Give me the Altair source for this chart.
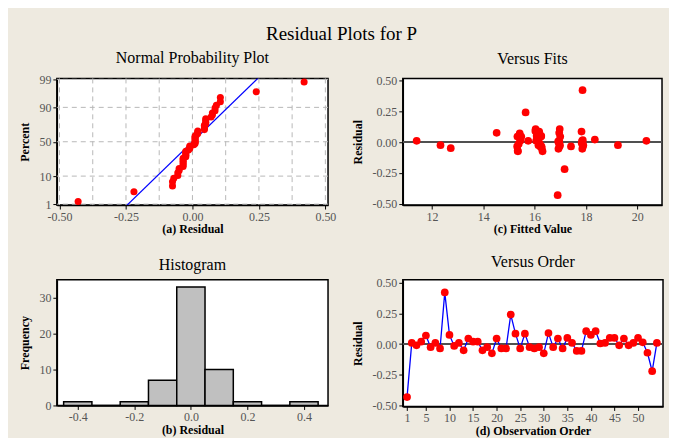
import altair as alt
import pandas as pd
from statistics import NormalDist

FONT = "Liberation Serif"

# Residuals by observation order (read from "Versus Order")
residuals = [-0.43, 0.01, -0.01, 0.02, 0.07, -0.025, 0.01, -0.035, 0.42, 0.075,
             -0.015, 0.01, -0.05, 0.045, 0.02, 0.02, -0.05, -0.025, -0.075, 0.045,
             -0.035, -0.035, 0.24, 0.085, -0.035, 0.085, -0.025, -0.035, -0.025, -0.075,
             0.09, -0.025, 0.045, -0.035, 0.05, 0.01, -0.055, -0.055, 0.105, 0.075,
             0.105, 0.005, 0.01, 0.05, 0.05, -0.01, 0.045, -0.01, 0.01, 0.05,
             0.015, -0.07, -0.22, 0.01]
# Fitted values (read from "Versus Fits")
fits = [16.90, 11.40, 16.95, 16.10, 15.42, 12.33, 20.36, 17.42, 17.87, 14.52,
        15.38, 17.85, 12.73, 15.33, 15.45, 18.35, 16.28, 19.25, 15.35, 16.25,
        16.22, 16.97, 15.65, 16.18, 15.32, 17.83, 16.15, 17.88, 16.99, 16.31,
        16.03, 17.90, 15.48, 16.27, 16.08, 15.75, 16.93, 17.86, 16.98, 16.96,
        16.04, 16.92, 15.44, 16.12, 15.40, 16.20, 17.00, 17.84, 16.06, 16.26,
        17.88, 15.34, 17.17, 16.96]
order = list(range(1, len(residuals) + 1))

# Histogram (read from "Histogram")
hist_lo = [-0.45, -0.35, -0.25, -0.15, -0.05, 0.05, 0.15, 0.25, 0.35]
hist_count = [1, 0, 1, 7, 33, 10, 1, 0, 1]

# Normal probability plot: fitted normal line and grid
line_res = [-0.268, 0.268]
line_pct = [0.5, 99.5]
prob_ticks = [1, 10, 50, 90, 99]
npp_grid_x = [-0.5, -0.375, -0.25, -0.125, 0.0, 0.125, 0.25, 0.375, 0.5]
npp_label_x = [-0.5, -0.25, 0.0, 0.25, 0.5]
resid_ticks = [-0.5, -0.25, 0.0, 0.25, 0.5]
fit_ticks = [12, 14, 16, 18, 20]
order_ticks = [1, 5, 10, 15, 20, 25, 30, 35, 40, 45, 50]
hist_ticks = [-0.4, -0.2, 0.0, 0.2, 0.4]
freq_ticks = [0, 10, 20, 30]

n = len(residuals)
df = pd.DataFrame({"resid": residuals, "fit": fits, "order": order})

RED = "#FF0000"
BLUE = "#0000FF"
PT = 50


def hyph(fmt):
    return f"(datum.value < 0 ? '-' : '') + format(abs(datum.value), '{fmt}')"


def ptitle(t):
    return alt.TitleParams(t, font=FONT, fontSize=16, fontWeight="normal",
                           color="black", offset=7, anchor="middle")


# ---------- (a) Normal probability plot ----------
xs_a = alt.Scale(domain=[-0.51, 0.51], nice=False, zero=False)
ys_a = alt.Scale(domain=[-2.36, 2.36], nice=False, zero=False)
z_ticks = [NormalDist().inv_cdf(p / 100) for p in prob_ticks]
ax_xa = alt.Axis(values=npp_label_x, labelExpr=hyph(".2f"), title="(a) Residual")
ax_ya = alt.Axis(values=z_ticks, title="Percent",
                 labelExpr="format(cumulativeNormal(datum.value) * 100, '.0f')")

gv = alt.Chart(pd.DataFrame({"g": npp_grid_x})).mark_rule(
    color="#b8b8b8", strokeDash=[5, 4], strokeWidth=1
).encode(x=alt.X("g:Q", scale=xs_a, axis=ax_xa))
gh = alt.Chart(pd.DataFrame({"p": prob_ticks})).transform_calculate(
    z="quantileNormal(datum.p / 100)"
).mark_rule(color="#b8b8b8", strokeDash=[5, 4], strokeWidth=1).encode(
    y=alt.Y("z:Q", scale=ys_a, axis=ax_ya))
fitline = alt.Chart(pd.DataFrame({"r": line_res, "p": line_pct})).transform_calculate(
    z="quantileNormal(datum.p / 100)"
).mark_line(color=BLUE, strokeWidth=1.2, clip=True).encode(
    x=alt.X("r:Q", scale=xs_a, axis=ax_xa), y=alt.Y("z:Q", scale=ys_a, axis=ax_ya))
npts = alt.Chart(df).transform_window(
    rank="row_number()", sort=[alt.SortField("resid")]
).transform_calculate(
    z=f"quantileNormal((datum.rank - 0.3) / ({n} + 0.4))"
).mark_circle(color=RED, size=PT, opacity=1).encode(
    x=alt.X("resid:Q", scale=xs_a, axis=ax_xa),
    y=alt.Y("z:Q", scale=ys_a, axis=ax_ya),
)
panel_a = alt.layer(gv, gh, fitline, npts).properties(
    width=272, height=127, title=ptitle("Normal Probability Plot"))

# ---------- (c) Versus fits ----------
xs_c = alt.Scale(domain=[10.86, 20.97], nice=False, zero=False)
ys_r = alt.Scale(domain=[-0.51, 0.515], nice=False, zero=False)
ax_xc = alt.Axis(values=fit_ticks, title="(c) Fitted Value")
ax_yr = alt.Axis(values=resid_ticks, labelExpr=hyph(".2f"), title="Residual")
zero_c = alt.Chart(pd.DataFrame({"y": [0.0]})).mark_rule(
    color="#505050", strokeWidth=2).encode(y=alt.Y("y:Q", scale=ys_r, axis=ax_yr))
fpts = alt.Chart(df).mark_circle(color=RED, size=PT + 10, opacity=1).encode(
    x=alt.X("fit:Q", scale=xs_c, axis=ax_xc),
    y=alt.Y("resid:Q", scale=ys_r, axis=ax_yr),
)
panel_c = alt.layer(zero_c, fpts).properties(width=260, height=127, title=ptitle("Versus Fits"))

# ---------- (b) Histogram ----------
xs_b = alt.Scale(domain=[-0.474, 0.485], nice=False, zero=False)
ys_b = alt.Scale(domain=[0, 35], nice=False)
hist = alt.Chart(pd.DataFrame({"lo": hist_lo, "count": hist_count})).transform_calculate(
    hi="datum.lo + 0.1"
).mark_rect(fill="#C0C0C0", stroke="black", strokeWidth=1.5).encode(
    x=alt.X("lo:Q", scale=xs_b,
            axis=alt.Axis(values=hist_ticks, labelExpr=hyph(".1f"), title="(b) Residual")),
    x2="hi:Q",
    y=alt.Y("count:Q", scale=ys_b, axis=alt.Axis(values=freq_ticks, title="Frequency")),
    y2=alt.datum(0),
)
panel_b = hist.properties(width=272, height=126, title=ptitle("Histogram"))

# ---------- (d) Versus order ----------
xs_d = alt.Scale(domain=[0.1, 55.3], nice=False, zero=False)
ys_d = alt.Scale(domain=[-0.506, 0.522], nice=False, zero=False)
ax_xd = alt.Axis(values=order_ticks, title="(d) Observation Order")
ax_yd = alt.Axis(values=resid_ticks, labelExpr=hyph(".2f"), title="Residual")
zero_d = alt.Chart(pd.DataFrame({"y": [0.0]})).mark_rule(
    color="#505050", strokeWidth=2).encode(y=alt.Y("y:Q", scale=ys_d, axis=ax_yd))
oline = alt.Chart(df).mark_line(color=BLUE, strokeWidth=1.3).encode(
    x=alt.X("order:Q", scale=xs_d, axis=ax_xd), y=alt.Y("resid:Q", scale=ys_d, axis=ax_yd))
opts = alt.Chart(df).mark_circle(color=RED, size=PT + 10, opacity=1).encode(
    x=alt.X("order:Q", scale=xs_d, axis=ax_xd),
    y=alt.Y("resid:Q", scale=ys_d, axis=ax_yd),
)
panel_d = alt.layer(zero_d, oline, opts).properties(
    width=261, height=127, title=ptitle("Versus Order"))

chart = alt.concat(
    panel_a, panel_c, panel_b, panel_d, columns=2,
    spacing={"row": 75, "column": 75}, bounds="flush",
).properties(
    title=alt.TitleParams("Residual Plots for P", font=FONT, fontSize=19,
                          fontWeight="normal", color="black", anchor="middle",
                          offset=6),
    padding={"left": 10, "top": 16, "right": 4, "bottom": 0},
    background="#EEEAE0",
).configure_view(
    stroke="black", strokeWidth=1.5, fill="white"
).configure_axis(
    labelFont=FONT, labelFontSize=12, labelColor="#555555",
    titleFont=FONT, titleFontSize=12, titleFontWeight="bold", titleColor="black",
    tickColor="black", tickSize=4, domainColor="black", domainWidth=1.5,
    grid=False,
).configure_axisX(titlePadding=2, labelPadding=2).configure_axisY(titlePadding=7, labelPadding=2)

chart.save("out.html", embed_options={"renderer": "svg", "actions": False})
